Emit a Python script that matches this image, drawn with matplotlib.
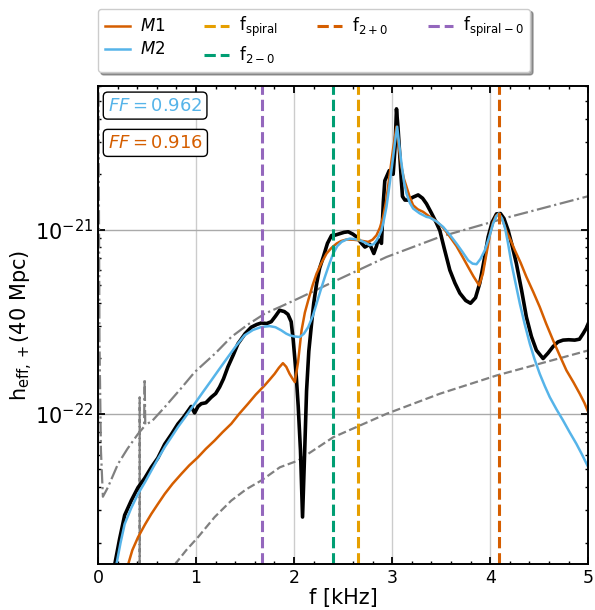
import numpy as np
import matplotlib
matplotlib.use('Agg')
import matplotlib.pyplot as plt
from matplotlib.ticker import MultipleLocator, FixedLocator, NullFormatter

# frequencies in kHz, amplitudes as log10(h)
data_f = [0.17, 0.22, 0.272, 0.34, 0.408, 0.476, 0.544, 0.61, 0.68, 0.75, 0.815, 0.87, 0.917,
          0.95, 0.985, 1.02, 1.053, 1.1, 1.155, 1.2, 1.24, 1.28, 1.325, 1.38, 1.427, 1.5, 1.563,
          1.62, 1.665, 1.72, 1.767, 1.81, 1.852, 1.9, 1.937, 1.97, 1.991, 2.02, 2.042, 2.065,
          2.086, 2.105, 2.127, 2.15, 2.178, 2.2, 2.229, 2.26, 2.297, 2.34, 2.382, 2.42, 2.467,
          2.51, 2.552, 2.6, 2.637, 2.68, 2.722, 2.772, 2.813, 2.84, 2.857, 2.875, 2.891, 2.91,
          2.925, 2.97, 3.0, 3.01, 3.03, 3.044, 3.06, 3.078, 3.092, 3.105, 3.13, 3.163, 3.21,
          3.265, 3.31, 3.35, 3.4, 3.452, 3.486, 3.53, 3.588, 3.64, 3.69, 3.75, 3.799, 3.85,
          3.894, 3.94, 3.979, 4.02, 4.064, 4.104, 4.14, 4.183, 4.22, 4.267, 4.32, 4.369, 4.42,
          4.471, 4.539, 4.59, 4.641, 4.69, 4.743, 4.8, 4.862, 4.91, 4.947, 4.98, 5.0]
data_h = [-22.82, -22.68, -22.55, -22.47, -22.40, -22.35, -22.29, -22.24, -22.165, -22.11,
          -22.055, -22.02, -21.985, -21.96, -21.995, -21.96, -21.945, -21.94, -21.91, -21.89,
          -21.855, -21.81, -21.745, -21.68, -21.62, -21.565, -21.53, -21.515, -21.507, -21.51,
          -21.50, -21.47, -21.438, -21.445, -21.46, -21.50, -21.60, -21.78, -21.96, -22.2,
          -22.56, -22.25, -21.875, -21.66, -21.51, -21.40, -21.295, -21.21, -21.15, -21.075,
          -21.032, -21.03, -21.022, -21.015, -21.012, -21.025, -21.04, -21.07, -21.095, -21.08,
          -21.13, -21.09, -21.055, -21.06, -21.075, -20.85, -20.735, -20.68, -20.69, -20.70,
          -20.55, -20.345, -20.45, -20.6, -20.72, -20.82, -20.84, -20.84, -20.825, -20.812,
          -20.83, -20.86, -20.91, -20.965, -21.005, -21.1, -21.22, -21.29, -21.345, -21.385,
          -21.40, -21.37, -21.29, -21.16, -21.04, -20.96, -20.915, -20.913, -20.94, -21.005,
          -21.08, -21.185, -21.33, -21.475, -21.58, -21.655, -21.70, -21.67, -21.635, -21.61,
          -21.60, -21.598, -21.60, -21.595, -21.565, -21.535, -21.51]

m1_f = [0.306, 0.35, 0.408, 0.48, 0.544, 0.61, 0.68, 0.76, 0.85, 0.93, 1.019, 1.1, 1.189,
        1.27, 1.359, 1.44, 1.529, 1.61, 1.699, 1.75, 1.801, 1.845, 1.886, 1.92, 1.954, 1.985,
        2.008, 2.04, 2.076, 2.11, 2.144, 2.19, 2.229, 2.28, 2.331, 2.38, 2.433, 2.48, 2.535,
        2.6, 2.654, 2.7, 2.755, 2.8, 2.84, 2.875, 2.908, 2.94, 2.976, 3.01, 3.044, 3.07,
        3.095, 3.12, 3.146, 3.18, 3.214, 3.26, 3.316, 3.384, 3.45, 3.52, 3.59, 3.656, 3.72,
        3.775, 3.83, 3.887, 3.925, 3.962, 4.0, 4.03, 4.06, 4.087, 4.12, 4.166, 4.21, 4.251,
        4.31, 4.369, 4.44, 4.505, 4.57, 4.641, 4.71, 4.777, 4.85, 4.913, 4.96, 5.0]
m1_h = [-22.82, -22.74, -22.67, -22.6, -22.543, -22.49, -22.435, -22.38, -22.326, -22.28,
        -22.236, -22.19, -22.145, -22.1, -22.054, -22.0, -21.946, -21.895, -21.846, -21.815,
        -21.783, -21.75, -21.725, -21.745, -21.783, -21.81, -21.828, -21.72, -21.547, -21.45,
        -21.384, -21.3, -21.239, -21.18, -21.13, -21.1, -21.076, -21.062, -21.054, -21.055,
        -21.058, -21.062, -21.067, -21.055, -21.031, -20.99, -20.931, -20.84, -20.696, -20.56,
        -20.442, -20.56, -20.66, -20.725, -20.768, -20.825, -20.868, -20.89, -20.904, -20.931,
        -20.955, -20.99, -21.04, -21.09, -21.15, -21.203, -21.255, -21.303, -21.24, -21.13,
        -21.02, -20.96, -20.925, -20.913, -20.94, -21.01, -21.06, -21.112, -21.18, -21.257,
        -21.34, -21.42, -21.51, -21.601, -21.685, -21.764, -21.83, -21.891, -21.94, -21.991]

m2_f = [0.187, 0.23, 0.272, 0.34, 0.408, 0.48, 0.544, 0.61, 0.68, 0.75, 0.815, 0.9, 0.985,
        1.07, 1.155, 1.24, 1.325, 1.41, 1.495, 1.58, 1.665, 1.75, 1.81, 1.869, 1.92, 1.957,
        2.0, 2.059, 2.1, 2.144, 2.19, 2.229, 2.27, 2.314, 2.36, 2.399, 2.44, 2.484, 2.53,
        2.569, 2.62, 2.67, 2.72, 2.772, 2.81, 2.84, 2.865, 2.891, 2.915, 2.942, 2.975, 3.01,
        3.03, 3.051, 3.07, 3.095, 3.12, 3.146, 3.18, 3.214, 3.28, 3.35, 3.384, 3.45, 3.52,
        3.59, 3.656, 3.715, 3.775, 3.82, 3.86, 3.9, 3.945, 3.99, 4.03, 4.06, 4.087, 4.12,
        4.149, 4.18, 4.217, 4.26, 4.302, 4.35, 4.404, 4.45, 4.505, 4.557, 4.607, 4.675,
        4.743, 4.81, 4.879, 4.94, 5.0]
m2_h = [-22.82, -22.7, -22.598, -22.51, -22.435, -22.37, -22.308, -22.245, -22.181, -22.125,
        -22.072, -22.01, -21.946, -21.882, -21.819, -21.755, -21.692, -21.63, -21.574,
        -21.545, -21.529, -21.524, -21.53, -21.547, -21.565, -21.574, -21.58, -21.583,
        -21.565, -21.529, -21.47, -21.402, -21.33, -21.257, -21.185, -21.13, -21.09, -21.067,
        -21.055, -21.049, -21.052, -21.058, -21.07, -21.085, -21.08, -21.06, -21.035, -21.004,
        -20.95, -20.877, -20.75, -20.605, -20.52, -20.442, -20.53, -20.641, -20.74, -20.804,
        -20.855, -20.886, -20.912, -20.931, -20.935, -20.955, -20.986, -21.03, -21.076,
        -21.12, -21.167, -21.185, -21.188, -21.16, -21.112, -21.04, -20.967, -20.93, -20.913,
        -20.94, -20.986, -21.07, -21.185, -21.295, -21.402, -21.51, -21.62, -21.7, -21.783,
        -21.85, -21.909, -21.975, -22.036, -22.1, -22.163, -22.225, -22.29]

# detector sensitivity curves (grey)
dd_f = [0.003, 0.015, 0.03, 0.05, 0.1, 0.204, 0.3, 0.408, 0.47, 0.476, 0.482, 0.55, 0.68,
        0.85, 0.985, 1.2, 1.359, 1.53, 1.699, 1.855, 2.039, 2.399, 2.942, 3.486, 4.2, 5.0]
dd_h = [-20.0, -21.6, -22.2, -22.45, -22.4, -22.272, -22.19, -22.109, -22.07, -21.81,
        -22.06, -22.04, -21.964, -21.86, -21.774, -21.67, -21.583, -21.515, -21.457, -21.42,
        -21.375, -21.284, -21.149, -21.04, -20.931, -20.819]
ds_f = [0.4245, 0.425, 0.4255, 0.6, 0.78, 0.9, 1.019, 1.19, 1.359, 1.51, 1.665, 1.855, 2.039,
        2.399, 2.942, 3.486, 4.064, 5.0]
ds_h = [-23.5, -21.91, -23.5, -23.3, -22.82, -22.74, -22.67, -22.56, -22.471, -22.41,
        -22.362, -22.29, -22.254, -22.127, -22.0, -21.891, -21.792, -21.656]

f_spiral = 2.654
f_2m0 = 2.399
f_2p0 = 4.091
f_spiral0 = 1.672

ff_m2 = 0.962
ff_m1 = 0.916

c_m1 = '#D55E00'
c_m2 = '#56B4E9'

fig = plt.figure(figsize=(5.95, 6.1), dpi=100)
ax = fig.add_axes([0.1647, 0.0754, 0.824, 0.7836])

ax.grid(True, axis='x', which='major', color='#cccccc', lw=1.0)
ax.grid(True, axis='y', which='major', color='#aaaaaa', lw=1.0)
ax.semilogy(dd_f, 10 ** np.array(dd_h), color='grey', ls='-.', lw=1.6)
ax.semilogy(ds_f, 10 ** np.array(ds_h), color='grey', ls='--', lw=1.6)
ax.semilogy(data_f, 10 ** np.array(data_h), color='k', lw=2.6)
l1, = ax.semilogy(m1_f, 10 ** np.array(m1_h), color=c_m1, lw=1.8, label='$M1$')
l2, = ax.semilogy(m2_f, 10 ** np.array(m2_h), color=c_m2, lw=1.8, label='$M2$')

v1 = ax.axvline(f_spiral, color='#E69F00', ls='--', lw=2.2, label=r'$\mathrm{f_{spiral}}$')
v2 = ax.axvline(f_2m0, color='#009E73', ls='--', lw=2.2, label=r'$\mathrm{f_{2-0}}$')
v3 = ax.axvline(f_2p0, color=c_m1, ls='--', lw=2.2, label=r'$\mathrm{f_{2+0}}$')
v4 = ax.axvline(f_spiral0, color='#9467bd', ls='--', lw=2.2, label=r'$\mathrm{f_{spiral-0}}$')

ax.set_xlim(0, 5)
ax.set_ylim(10 ** -22.815, 10 ** -20.221)
ax.xaxis.set_major_locator(MultipleLocator(1))
ax.xaxis.set_minor_locator(MultipleLocator(0.2))
ax.set_yticks([1e-22, 1e-21])
minor = [m * 10.0 ** e for e in (-23, -22, -21) for m in range(2, 10)]
ax.yaxis.set_minor_locator(FixedLocator([v for v in minor if 10 ** -22.815 < v < 10 ** -20.221]))
ax.yaxis.set_minor_formatter(NullFormatter())
ax.tick_params(which='both', direction='in', top=True, right=True)
ax.tick_params(axis='x', labelsize=12.5)
ax.tick_params(axis='y', labelsize=15)
ax.tick_params(which='major', length=5, width=1.3)
ax.tick_params(which='minor', length=2.5, width=1.0)
for s in ax.spines.values():
    s.set_linewidth(1.4)

ax.set_xlabel('f [kHz]', fontsize=15, labelpad=1)
ax.set_ylabel(r'$\mathrm{h_{eff,+}}$(40 Mpc)', fontsize=15, labelpad=0)

box = dict(boxstyle='round,pad=0.25', fc='white', ec='k', lw=1.0)
ax.text(0.02, 0.959, '$FF = %.3f$' % ff_m2, color=c_m2, fontsize=13,
        transform=ax.transAxes, ha='left', va='center', bbox=box)
ax.text(0.02, 0.881, '$FF = %.3f$' % ff_m1, color=c_m1, fontsize=13,
        transform=ax.transAxes, ha='left', va='center', bbox=box)

ax.legend(handles=[l1, l2, v1, v2, v3, v4], ncol=4, loc='lower left',
          bbox_to_anchor=(0.0, 1.029), borderaxespad=0, fontsize=12,
          handlelength=1.5, handletextpad=0.6, columnspacing=2.35, labelspacing=0.3,
          shadow=True, fancybox=True, framealpha=1, edgecolor='#cccccc')

fig.savefig('out.png', dpi=100)
